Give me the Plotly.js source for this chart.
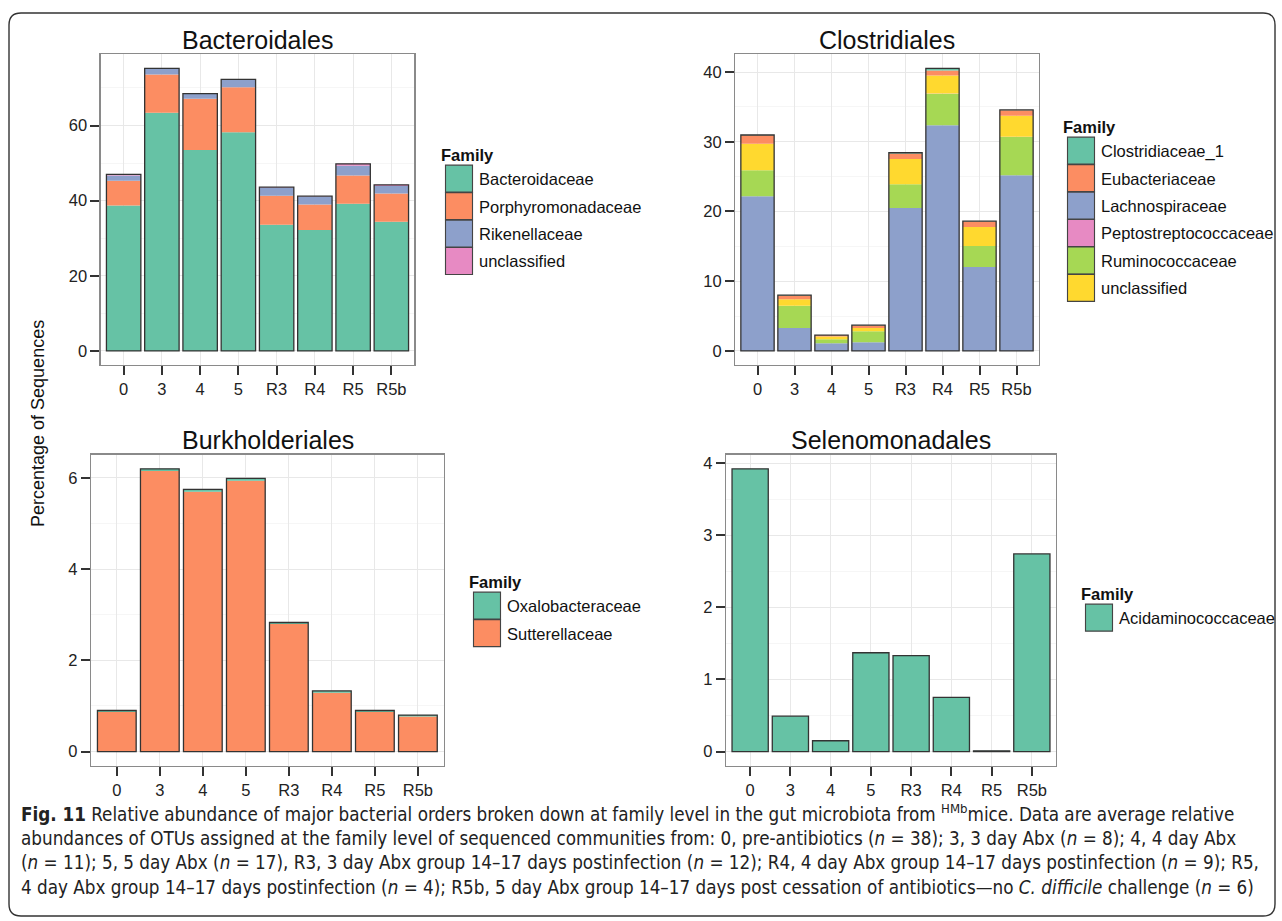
<!DOCTYPE html>
<html><head><meta charset="utf-8">
<script src="https://cdn.plot.ly/plotly-3.0.1.min.js"></script>
<style>html,body{margin:0;padding:0;background:#fff}</style>
</head><body><div id="chart" style="width:1282px;height:921px"></div>
<script>
// ---------- data ----------
const categories = ['0', '3', '4', '5', 'R3', 'R4', 'R5', 'R5b'];

// Bacteroidales (stack bottom -> top)
const bacteroidaceae     = [38.7, 63.4, 53.5, 58.2, 33.6, 32.2, 39.2, 34.4];
const porphyromonadaceae = [6.6, 10.2, 13.6, 12.0, 7.7, 6.8, 7.5, 7.5];
const rikenellaceae      = [1.4, 1.5, 1.3, 2.0, 2.2, 2.1, 2.6, 2.0];
const bacteroidalesUncl  = [0.3, 0.1, 0.1, 0.1, 0.1, 0.1, 0.5, 0.3];

// Clostridiales
const clostridiaceae1      = [0.05, 0.05, 0.02, 0.05, 0.1, 0.3, 0.05, 0.05];
const eubacteriaceae       = [1.2, 0.56, 0.15, 0.34, 0.8, 0.7, 0.8, 0.8];
const lachnospiraceae      = [22.2, 3.28, 1.1, 1.24, 20.5, 32.35, 12.04, 25.2];
const peptostreptococcaceae= [0.02, 0.02, 0.01, 0.01, 0.02, 0.02, 0.02, 0.02];
const ruminococcaceae      = [3.7, 3.19, 0.57, 1.57, 3.4, 4.55, 3.0, 5.5];
const clostridialesUncl    = [3.8, 0.91, 0.4, 0.47, 3.6, 2.6, 2.7, 3.0];

// Burkholderiales
const oxalobacteraceae = [0.03, 0.05, 0.05, 0.05, 0.03, 0.04, 0.03, 0.03];
const sutterellaceae   = [0.87, 6.15, 5.70, 5.94, 2.80, 1.29, 0.87, 0.77];

// Selenomonadales
const acidaminococcaceae = [3.92, 0.49, 0.15, 1.37, 1.33, 0.75, 0.01, 2.74];

const panelTitles = ['Bacteroidales', 'Clostridiales', 'Burkholderiales', 'Selenomonadales'];
const yAxisTitle = 'Percentage of Sequences';
const legendTitle = 'Family';
const captionLines = [
  '<b>Fig. 11</b> Relative abundance of major bacterial orders broken down at family level in the gut microbiota from <sup>HMb</sup>mice. Data are average relative',
  'abundances of OTUs assigned at the family level of sequenced communities from: 0, pre-antibiotics (<i>n</i> = 38); 3, 3 day Abx (<i>n</i> = 8); 4, 4 day Abx',
  '(<i>n</i> = 11); 5, 5 day Abx (<i>n</i> = 17), R3, 3 day Abx group 14–17 days postinfection (<i>n</i> = 12); R4, 4 day Abx group 14–17 days postinfection (<i>n</i> = 9); R5,',
  '4 day Abx group 14–17 days postinfection (<i>n</i> = 4); R5b, 5 day Abx group 14–17 days post cessation of antibiotics—no <i>C. difficile</i> challenge (<i>n</i> = 6)'
];

// ---------- styling ----------
const SET2 = {teal:'#66C2A5', orange:'#FC8D62', blue:'#8DA0CB', pink:'#E78AC3', green:'#A6D854', yellow:'#FFD92F'};
const W = 1282, H = 921;
const px = v => v / W;
const py = v => 1 - v / H;
const FONT = 'Liberation Sans, Arial, sans-serif';

function stacked(series, xa, ya, legendId) {
  let base = categories.map(() => 0);
  const traces = [];
  series.forEach(s => {
    traces.push({
      type: 'bar', x: categories, y: s.values, base: base.slice(),
      name: s.name, xaxis: xa, yaxis: ya, legend: legendId,
      legendgroup: legendId + '_' + s.name, legendrank: s.rank,
      marker: {color: s.color, line: {width: 0}}, hoverinfo: 'x+y+name'
    });
    base = base.map((b, i) => b + s.values[i]);
  });
  traces.push({
    type: 'bar', x: categories, y: base, base: categories.map(() => 0),
    xaxis: xa, yaxis: ya, showlegend: false, hoverinfo: 'skip',
    marker: {color: 'rgba(0,0,0,0)', line: {color: '#333333', width: 1.3}}
  });
  return {traces, max: Math.max(...base)};
}

const p1 = stacked([
  {name:'Bacteroidaceae', values:bacteroidaceae, color:SET2.teal, rank:1},
  {name:'Porphyromonadaceae', values:porphyromonadaceae, color:SET2.orange, rank:2},
  {name:'Rikenellaceae', values:rikenellaceae, color:SET2.blue, rank:3},
  {name:'unclassified', values:bacteroidalesUncl, color:SET2.pink, rank:4}
], 'x', 'y', 'legend');

const p2 = stacked([
  {name:'Lachnospiraceae', values:lachnospiraceae, color:SET2.blue, rank:3},
  {name:'Ruminococcaceae', values:ruminococcaceae, color:SET2.green, rank:5},
  {name:'Peptostreptococcaceae', values:peptostreptococcaceae, color:SET2.pink, rank:4},
  {name:'unclassified', values:clostridialesUncl, color:SET2.yellow, rank:6},
  {name:'Eubacteriaceae', values:eubacteriaceae, color:SET2.orange, rank:2},
  {name:'Clostridiaceae_1', values:clostridiaceae1, color:SET2.teal, rank:1}
], 'x2', 'y2', 'legend2');

const p3 = stacked([
  {name:'Sutterellaceae', values:sutterellaceae, color:SET2.orange, rank:2},
  {name:'Oxalobacteraceae', values:oxalobacteraceae, color:SET2.teal, rank:1}
], 'x3', 'y3', 'legend3');

const p4 = stacked([
  {name:'Acidaminococcaceae', values:acidaminococcaceae, color:SET2.teal, rank:1}
], 'x4', 'y4', 'legend4');

const data = [...p1.traces, ...p2.traces, ...p3.traces, ...p4.traces];

function xAxis(x0, x1, anchor) {
  return {
    type: 'category', domain: [px(x0), px(x1)], anchor: anchor, range: [-0.6, categories.length - 0.4],
    showgrid: true, gridcolor: '#e8e8e8', gridwidth: 1, zeroline: false,
    ticks: 'outside', ticklen: 9, tickwidth: 2, tickcolor: '#333',
    showline: true, mirror: true, linecolor: '#8a8a8a', linewidth: 1.3,
    tickfont: {family: FONT, size: 16.5, color: '#222'}
  };
}
function yAxis(y0, y1, anchor, max, dtick) {
  return {
    domain: [py(y1), py(y0)], anchor: anchor, range: [-0.05 * max, 1.05 * max],
    dtick: dtick, tick0: 0, showgrid: true, gridcolor: '#e8e8e8', gridwidth: 1, zeroline: false,
    minor: {dtick: dtick / 2, showgrid: true, gridcolor: '#f6f6f6', gridwidth: 1},
    ticks: 'outside', ticklen: 9, tickwidth: 2, tickcolor: '#333',
    showline: true, mirror: true, linecolor: '#8a8a8a', linewidth: 1.3,
    tickfont: {family: FONT, size: 16.5, color: '#222'}
  };
}
function legendBox(x, y) {
  return {
    x: px(x), y: py(y), xanchor: 'left', yanchor: 'top', xref: 'paper', yref: 'paper',
    bgcolor: 'rgba(0,0,0,0)', borderwidth: 0, traceorder: 'grouped', tracegroupgap: 3,
    font: {family: FONT, size: 16.5, color: '#111'},
    title: {text: legendTitle, font: {family: FONT, size: 16.5, color: '#111', weight: 'bold'}}
  };
}

const titleFont = {family: FONT, size: 25, color: '#111'};
const annotations = [
  {text: panelTitles[0], x: px(257.5), y: py(40), xref:'paper', yref:'paper', showarrow:false, font:titleFont, xanchor:'center', yanchor:'middle'},
  {text: panelTitles[1], x: px(887), y: py(40), xref:'paper', yref:'paper', showarrow:false, font:titleFont, xanchor:'center', yanchor:'middle'},
  {text: panelTitles[2], x: px(267.5), y: py(440), xref:'paper', yref:'paper', showarrow:false, font:titleFont, xanchor:'center', yanchor:'middle'},
  {text: panelTitles[3], x: px(891), y: py(440), xref:'paper', yref:'paper', showarrow:false, font:titleFont, xanchor:'center', yanchor:'middle'},
  {text: yAxisTitle, x: px(38), y: py(424), xref:'paper', yref:'paper', showarrow:false, textangle:-90,
   font: {family: FONT, size: 18, color: '#111'}, xanchor:'center', yanchor:'middle'}
];
const capY = [813, 838, 862, 887];
captionLines.forEach((t, i) => annotations.push({
  text: t, x: px(19), y: py(capY[i]), xref:'paper', yref:'paper', showarrow:false,
  xanchor:'left', yanchor:'middle', align:'left',
  font: {family: 'Liberation Sans Narrow, DejaVu Sans Condensed, Liberation Sans, sans-serif', size: 18.7, color: '#222'}
}));

// rounded frame
const fx0 = 9, fy0 = 13, fx1 = 1275, fy1 = 916, r = 12;
const P = (x, y) => px(x) + ',' + py(y);
const framePath = 'M' + P(fx0 + r, fy0) + ' L' + P(fx1 - r, fy0) + ' Q' + P(fx1, fy0) + ' ' + P(fx1, fy0 + r) +
  ' L' + P(fx1, fy1 - r) + ' Q' + P(fx1, fy1) + ' ' + P(fx1 - r, fy1) +
  ' L' + P(fx0 + r, fy1) + ' Q' + P(fx0, fy1) + ' ' + P(fx0, fy1 - r) +
  ' L' + P(fx0, fy0 + r) + ' Q' + P(fx0, fy0) + ' ' + P(fx0 + r, fy0) + ' Z';

const layout = {
  width: W, height: H, margin: {l: 0, r: 0, t: 0, b: 0},
  paper_bgcolor: '#fff', plot_bgcolor: '#fff',
  barmode: 'overlay', bargap: 0.1,
  font: {family: FONT, color: '#222'},
  xaxis: xAxis(100.7, 414.3, 'y'),
  yaxis: yAxis(54.3, 365, 'x', p1.max, 20),
  xaxis2: xAxis(735.3, 1038.7, 'y2'),
  yaxis2: yAxis(54.3, 365, 'x2', p2.max, 10),
  xaxis3: xAxis(91, 443.7, 'y3'),
  yaxis3: yAxis(454.7, 765.7, 'x3', p3.max, 2),
  xaxis4: xAxis(726, 1056, 'y4'),
  yaxis4: yAxis(454.7, 765.7, 'x4', p4.max, 1),
  legend: legendBox(439, 140),
  legend2: legendBox(1061, 112),
  legend3: legendBox(467, 567),
  legend4: legendBox(1079, 579),
  annotations: annotations,
  shapes: [{type: 'path', path: framePath, xref: 'paper', yref: 'paper', line: {color: '#333', width: 1.4}, fillcolor: 'rgba(0,0,0,0)', layer: 'above'}]
};

Plotly.newPlot('chart', data, layout, {staticPlot: true, displayModeBar: false}).then(gd => {
  gd.querySelectorAll('g.legendpoints path').forEach(p => {
    const t = p.getAttribute('transform') || '';
    p.setAttribute('transform', t + ' scale(2.25)');
    p.style.stroke = '#444';
    p.style.strokeWidth = '0.5px';
  });
});
</script></body></html>
